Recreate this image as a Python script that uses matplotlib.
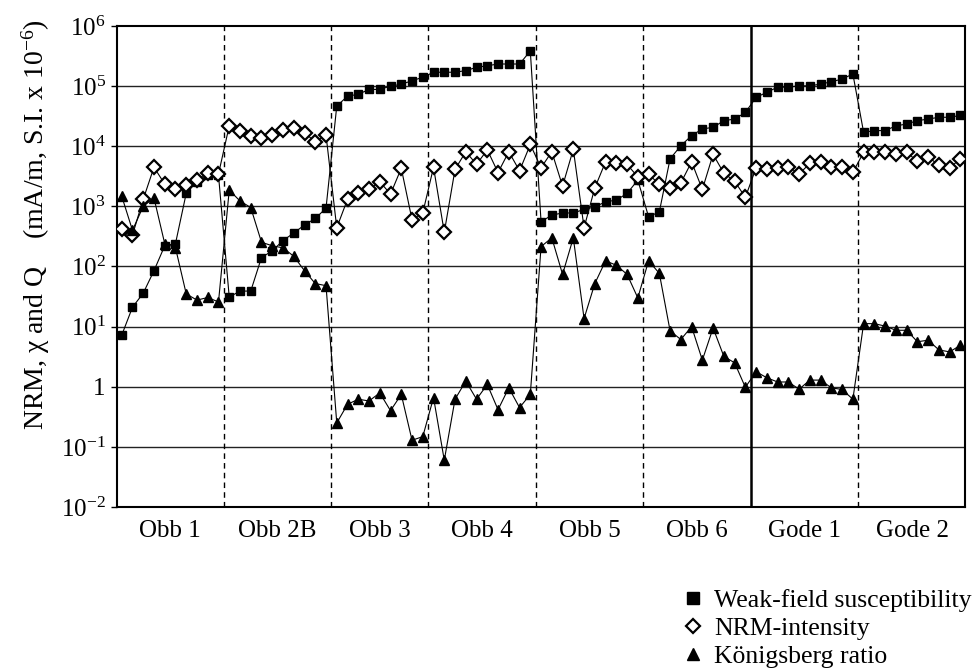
import matplotlib
matplotlib.use('Agg')
import matplotlib.pyplot as plt
from matplotlib.lines import Line2D
import numpy as np

plt.rcParams['font.family'] = ['Liberation Serif', 'DejaVu Serif']
plt.rcParams['mathtext.fontset'] = 'custom'
plt.rcParams['mathtext.rm'] = 'Liberation Serif'
plt.rcParams['mathtext.it'] = 'Liberation Serif:italic'
plt.rcParams['font.size'] = 18

groups = ['Obb 1', 'Obb 2B', 'Obb 3', 'Obb 4', 'Obb 5', 'Obb 6', 'Gode 1', 'Gode 2']
groupSizes = [10, 10, 9, 10, 10, 10, 10, 10]

#Weak-field susceptibility (S.I. x 10^-6)
chi = [7.2, 21, 36, 85, 221, 240, 1650, 2570, 3300, 3300,
       31, 39, 39, 141, 182, 270, 360, 490, 630, 930,
       46500, 68000, 73000, 88000, 88000, 100000, 107000, 123000, 140000,
       170000, 170000, 170000, 181000, 205000, 218000, 233000, 233000, 233000, 384000,
       555, 716, 776, 776, 890, 980, 1190, 1270, 1640, 2740,
       670, 810, 6170, 10200, 15000, 19400, 20600, 26600, 28300, 36400,
       64900, 79000, 96000, 96000, 101000, 101000, 108000, 118000, 131000, 159000,
       17000, 18200, 18200, 21800, 23400, 26600, 28300, 30300, 30300, 32500]

#NRM intensity (mA/m)
nrm = [414, 333, 1310, 4470, 2350, 1910, 2240, 2740, 3650, 3450,
       21800, 17800, 14800, 13500, 15400, 18600, 20400, 16800, 11800, 15400,
       441, 1310, 1700, 1910, 2570, 1600, 4300, 600, 780,
       4470, 370, 4120, 8100, 5000, 8700, 3650, 8100, 3900, 10700,
       4380, 8100, 2170, 8900, 441, 2030, 5500, 5300, 5000, 3080,
       3400, 2340, 2030, 2450, 5500, 1910, 7330, 3560, 2630, 1410,
       4380, 4150, 4380, 4570, 3450, 5190, 5370, 4570, 4570, 3670,
       7940, 7940, 7900, 7400, 7940, 5620, 6700, 4800, 4380, 6170]

#Koenigsberg ratio Q
q = [1480, 400, 1000, 1380, 240, 205, 35, 27.6, 30.5, 25.7,
     1860, 1230, 955, 253, 221, 204, 148, 85, 52, 48,
     0.25, 0.51, 0.62, 0.58, 0.79, 0.40, 0.745, 0.129, 0.148,
     0.66, 0.06, 0.62, 1.24, 0.62, 1.09, 0.415, 0.96, 0.45, 0.745,
     214, 300, 74, 300, 13.6, 52, 124, 105, 74, 30,
     124, 77, 8.5, 6.1, 10, 2.77, 9.5, 3.2, 2.5, 0.98,
     1.78, 1.41, 1.2, 1.2, 0.91, 1.29, 1.29, 0.96, 0.9, 0.62,
     11.2, 11.2, 10.2, 8.7, 8.7, 5.6, 5.95, 4.1, 3.8, 4.9]

yTicks = [1e-2, 1e-1, 1, 1e1, 1e2, 1e3, 1e4, 1e5, 1e6]
yTickLabels = [r'$10^{-2}$', r'$10^{-1}$', '1', r'$10^{1}$', r'$10^{2}$',
               r'$10^{3}$', r'$10^{4}$', r'$10^{5}$', r'$10^{6}$']

x = np.arange(len(chi))

fig = plt.figure(figsize=(9.74, 6.71), dpi=100)
ax = fig.add_axes([0.120, 0.2444, 0.871, 0.7169])

ax.set_yscale('log')
ax.set_ylim(1e-2, 1e6)
ax.set_xlim(-0.45, len(chi) - 0.55)

for t in yTicks[1:-1]:
    ax.axhline(t, color='#222222', lw=1.0, zorder=1)

#group separators, solid one between the Obb and Gode sites
bounds = np.cumsum(groupSizes)[:-1] - 0.5
for i, b in enumerate(bounds):
    if groups[i + 1] == 'Gode 1':
        ax.axvline(b, color='black', lw=1.8, zorder=1)
    else:
        ax.axvline(b, color='black', lw=1.0, ls=(0, (4, 3)), zorder=1)

ax.plot(x, chi, color='black', lw=0.8, marker='s', ms=5.5, mfc='black', mec='black', zorder=3)
ax.plot(x, nrm, color='black', lw=0.8, marker='D', ms=7, mfc='white', mec='black', mew=1.6, zorder=3)
ax.plot(x, q, color='black', lw=0.8, marker='^', ms=7.5, mfc='black', mec='black', zorder=3)

ax.set_yticks(yTicks)
ax.set_yticklabels(yTickLabels)
ax.minorticks_off()
ax.tick_params(axis='y', length=4, width=1, direction='out', pad=4)
ax.set_xticks([])
for s in ax.spines.values():
    s.set_linewidth(1.5)

starts = np.concatenate([[0], np.cumsum(groupSizes)[:-1]])
for name, st, n in zip(groups, starts, groupSizes):
    ax.text(st + (n - 1) / 2.0, -0.05, name, transform=ax.get_xaxis_transform(),
            ha='center', va='center', fontsize=18)

fig.text(0.037, 0.665, 'NRM, χ and Q    (mA/m, S.I. x 10$^{-6}$)',
         rotation=90, ha='center', va='center', fontsize=20)

handles = [Line2D([], [], ls='none', marker='s', ms=8, color='black'),
           Line2D([], [], ls='none', marker='D', ms=7, mfc='white', mec='black', mew=1.6),
           Line2D([], [], ls='none', marker='^', ms=9, color='black')]
labels = ['Weak-field susceptibility', 'NRM-intensity', 'Königsberg ratio']
fig.legend(handles, labels, loc='upper left', bbox_to_anchor=(0.688, 0.138),
           frameon=False, handlelength=1.0, handletextpad=0.3, labelspacing=0.2,
           borderaxespad=0, fontsize=18.5)

fig.savefig('out.png', dpi=100)
